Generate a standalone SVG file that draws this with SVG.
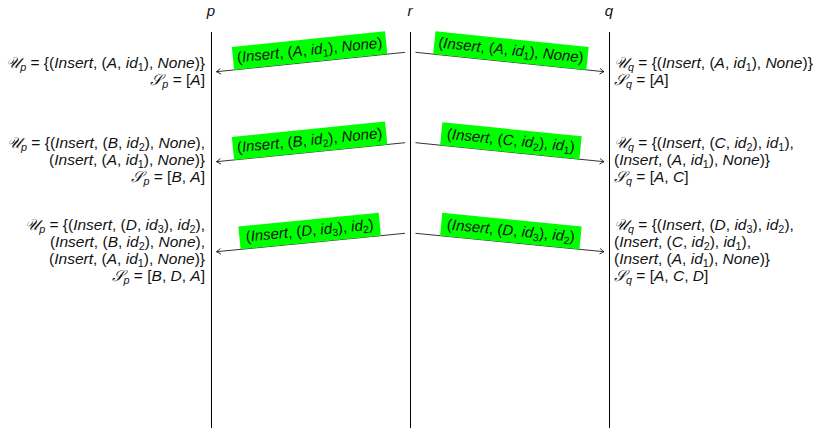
<svg xmlns="http://www.w3.org/2000/svg" width="813" height="428" viewBox="0 0 813 428">
  <style>
    text { font-family: "Liberation Sans", Arial, sans-serif; font-size: 15px; fill: #111; }
    .st text { font-size: 15.5px; }
    .i { font-style: italic; }
    .s { font-size: 10.5px; }
    .st .s { font-size: 10.8px; }
    .cal { font-family: "Liberation Serif", "DejaVu Serif", serif; font-style: italic; }
    .life { stroke: #000; stroke-width: 1; fill: none; }
    .msg { stroke: #000; stroke-width: 0.8; fill: none; marker-end: url(#head); }
    .tag { fill: #00ff00; }
    .lbl { text-anchor: middle; }
  </style>
  <defs>
    <marker id="head" viewBox="-5 -4 6 8" markerWidth="6" markerHeight="8" refX="0" refY="0" orient="auto" markerUnits="userSpaceOnUse">
      <path d="M -4.2,-2.8 Q -1.2,-0.6 0,0 Q -1.2,0.6 -4.2,2.8" stroke="#000" stroke-width="0.8" fill="none"/>
    </marker>
  </defs>

  <!-- process lifelines -->
  <g id="proc-p">
    <text class="i lbl" x="211" y="16">p</text>
    <line class="life" x1="211.5" y1="32" x2="211.5" y2="428"/>
  </g>
  <g id="proc-r">
    <text class="i lbl" x="410" y="16">r</text>
    <line class="life" x1="410.5" y1="32" x2="410.5" y2="428"/>
  </g>
  <g id="proc-q">
    <text class="i lbl" x="609" y="16">q</text>
    <line class="life" x1="609.5" y1="32" x2="609.5" y2="428"/>
  </g>

  <!-- messages sent by r, each with its tagged operation -->
  <g id="messages">
    <line class="msg" x1="405" y1="52.3" x2="216.5" y2="71.7"/>
    <line class="msg" x1="415.5" y1="52.3" x2="604" y2="71.7"/>
    <line class="msg" x1="405" y1="142.7" x2="216.5" y2="161.7"/>
    <line class="msg" x1="415.5" y1="142.7" x2="604" y2="161.7"/>
    <line class="msg" x1="405" y1="233.3" x2="216.5" y2="251.7"/>
    <line class="msg" x1="415.5" y1="233.3" x2="604" y2="251.7"/>

    <g transform="translate(310.75 62) rotate(-5.88)">
      <rect class="tag" x="-77" y="-23" width="154" height="23"/>
      <text class="lbl" x="0" y="-7">(<tspan class="i">Insert</tspan>, (<tspan class="i">A</tspan>, <tspan class="i">id</tspan><tspan class="s" dy="3">1</tspan><tspan dy="-3">), </tspan><tspan class="i">None</tspan>)</text>
    </g>
    <g transform="translate(509.75 62) rotate(5.88)">
      <rect class="tag" x="-77" y="-23" width="154" height="23"/>
      <text class="lbl" x="0" y="-7">(<tspan class="i">Insert</tspan>, (<tspan class="i">A</tspan>, <tspan class="i">id</tspan><tspan class="s" dy="3">1</tspan><tspan dy="-3">), </tspan><tspan class="i">None</tspan>)</text>
    </g>
    <g transform="translate(310.75 152.2) rotate(-5.74)">
      <rect class="tag" x="-77" y="-23" width="154" height="23"/>
      <text class="lbl" x="0" y="-7">(<tspan class="i">Insert</tspan>, (<tspan class="i">B</tspan>, <tspan class="i">id</tspan><tspan class="s" dy="3">2</tspan><tspan dy="-3">), </tspan><tspan class="i">None</tspan>)</text>
    </g>
    <g transform="translate(509.75 152.2) rotate(5.74)">
      <rect class="tag" x="-70" y="-23" width="140" height="23"/>
      <text class="lbl" x="0" y="-7">(<tspan class="i">Insert</tspan>, (<tspan class="i">C</tspan>, <tspan class="i">id</tspan><tspan class="s" dy="3">2</tspan><tspan dy="-3">), </tspan><tspan class="i">id</tspan><tspan class="s" dy="3">1</tspan><tspan dy="-3">)</tspan></text>
    </g>
    <g transform="translate(310.75 242.5) rotate(-5.56)">
      <rect class="tag" x="-70.5" y="-23" width="141" height="23"/>
      <text class="lbl" x="0" y="-7">(<tspan class="i">Insert</tspan>, (<tspan class="i">D</tspan>, <tspan class="i">id</tspan><tspan class="s" dy="3">3</tspan><tspan dy="-3">), </tspan><tspan class="i">id</tspan><tspan class="s" dy="3">2</tspan><tspan dy="-3">)</tspan></text>
    </g>
    <g transform="translate(509.75 242.5) rotate(5.56)">
      <rect class="tag" x="-70" y="-23" width="140" height="23"/>
      <text class="lbl" x="0" y="-7">(<tspan class="i">Insert</tspan>, (<tspan class="i">D</tspan>, <tspan class="i">id</tspan><tspan class="s" dy="3">3</tspan><tspan dy="-3">), </tspan><tspan class="i">id</tspan><tspan class="s" dy="3">2</tspan><tspan dy="-3">)</tspan></text>
    </g>
  </g>

  <!-- state of p after each delivery -->
  <g id="state-p1" class="st" text-anchor="end">
    <text x="205" y="67.5"><tspan class="cal">𝒰</tspan><tspan class="i s" dy="3">p</tspan><tspan dy="-3"> = {(</tspan><tspan class="i">Insert</tspan>, (<tspan class="i">A</tspan>, <tspan class="i">id</tspan><tspan class="s" dy="3">1</tspan><tspan dy="-3">), </tspan><tspan class="i">None</tspan>)}</text>
    <text x="205" y="84.5"><tspan class="cal">𝒮</tspan><tspan class="i s" dy="3">p</tspan><tspan dy="-3"> = [</tspan><tspan class="i">A</tspan>]</text>
  </g>
  <g id="state-p2" class="st" text-anchor="end">
    <text x="205" y="147.5"><tspan class="cal">𝒰</tspan><tspan class="i s" dy="3">p</tspan><tspan dy="-3"> = {(</tspan><tspan class="i">Insert</tspan>, (<tspan class="i">B</tspan>, <tspan class="i">id</tspan><tspan class="s" dy="3">2</tspan><tspan dy="-3">), </tspan><tspan class="i">None</tspan>),</text>
    <text x="205" y="164.5">(<tspan class="i">Insert</tspan>, (<tspan class="i">A</tspan>, <tspan class="i">id</tspan><tspan class="s" dy="3">1</tspan><tspan dy="-3">), </tspan><tspan class="i">None</tspan>)}</text>
    <text x="205" y="181.5"><tspan class="cal">𝒮</tspan><tspan class="i s" dy="3">p</tspan><tspan dy="-3"> = [</tspan><tspan class="i">B</tspan>, <tspan class="i">A</tspan>]</text>
  </g>
  <g id="state-p3" class="st" text-anchor="end">
    <text x="205" y="230"><tspan class="cal">𝒰</tspan><tspan class="i s" dy="3">p</tspan><tspan dy="-3"> = {(</tspan><tspan class="i">Insert</tspan>, (<tspan class="i">D</tspan>, <tspan class="i">id</tspan><tspan class="s" dy="3">3</tspan><tspan dy="-3">), </tspan><tspan class="i">id</tspan><tspan class="s" dy="3">2</tspan><tspan dy="-3">),</tspan></text>
    <text x="205" y="247">(<tspan class="i">Insert</tspan>, (<tspan class="i">B</tspan>, <tspan class="i">id</tspan><tspan class="s" dy="3">2</tspan><tspan dy="-3">), </tspan><tspan class="i">None</tspan>),</text>
    <text x="205" y="264">(<tspan class="i">Insert</tspan>, (<tspan class="i">A</tspan>, <tspan class="i">id</tspan><tspan class="s" dy="3">1</tspan><tspan dy="-3">), </tspan><tspan class="i">None</tspan>)}</text>
    <text x="205" y="281"><tspan class="cal">𝒮</tspan><tspan class="i s" dy="3">p</tspan><tspan dy="-3"> = [</tspan><tspan class="i">B</tspan>, <tspan class="i">D</tspan>, <tspan class="i">A</tspan>]</text>
  </g>

  <!-- state of q after each delivery -->
  <g id="state-q1" class="st">
    <text x="614" y="67.5"><tspan class="cal">𝒰</tspan><tspan class="i s" dy="3">q</tspan><tspan dy="-3"> = {(</tspan><tspan class="i">Insert</tspan>, (<tspan class="i">A</tspan>, <tspan class="i">id</tspan><tspan class="s" dy="3">1</tspan><tspan dy="-3">), </tspan><tspan class="i">None</tspan>)}</text>
    <text x="614" y="84.5"><tspan class="cal">𝒮</tspan><tspan class="i s" dy="3">q</tspan><tspan dy="-3"> = [</tspan><tspan class="i">A</tspan>]</text>
  </g>
  <g id="state-q2" class="st">
    <text x="614" y="147.5"><tspan class="cal">𝒰</tspan><tspan class="i s" dy="3">q</tspan><tspan dy="-3"> = {(</tspan><tspan class="i">Insert</tspan>, (<tspan class="i">C</tspan>, <tspan class="i">id</tspan><tspan class="s" dy="3">2</tspan><tspan dy="-3">), </tspan><tspan class="i">id</tspan><tspan class="s" dy="3">1</tspan><tspan dy="-3">),</tspan></text>
    <text x="614" y="164.5">(<tspan class="i">Insert</tspan>, (<tspan class="i">A</tspan>, <tspan class="i">id</tspan><tspan class="s" dy="3">1</tspan><tspan dy="-3">), </tspan><tspan class="i">None</tspan>)}</text>
    <text x="614" y="181.5"><tspan class="cal">𝒮</tspan><tspan class="i s" dy="3">q</tspan><tspan dy="-3"> = [</tspan><tspan class="i">A</tspan>, <tspan class="i">C</tspan>]</text>
  </g>
  <g id="state-q3" class="st">
    <text x="614" y="230"><tspan class="cal">𝒰</tspan><tspan class="i s" dy="3">q</tspan><tspan dy="-3"> = {(</tspan><tspan class="i">Insert</tspan>, (<tspan class="i">D</tspan>, <tspan class="i">id</tspan><tspan class="s" dy="3">3</tspan><tspan dy="-3">), </tspan><tspan class="i">id</tspan><tspan class="s" dy="3">2</tspan><tspan dy="-3">),</tspan></text>
    <text x="614" y="247">(<tspan class="i">Insert</tspan>, (<tspan class="i">C</tspan>, <tspan class="i">id</tspan><tspan class="s" dy="3">2</tspan><tspan dy="-3">), </tspan><tspan class="i">id</tspan><tspan class="s" dy="3">1</tspan><tspan dy="-3">),</tspan></text>
    <text x="614" y="264">(<tspan class="i">Insert</tspan>, (<tspan class="i">A</tspan>, <tspan class="i">id</tspan><tspan class="s" dy="3">1</tspan><tspan dy="-3">), </tspan><tspan class="i">None</tspan>)}</text>
    <text x="614" y="281"><tspan class="cal">𝒮</tspan><tspan class="i s" dy="3">q</tspan><tspan dy="-3"> = [</tspan><tspan class="i">A</tspan>, <tspan class="i">C</tspan>, <tspan class="i">D</tspan>]</text>
  </g>
</svg>
